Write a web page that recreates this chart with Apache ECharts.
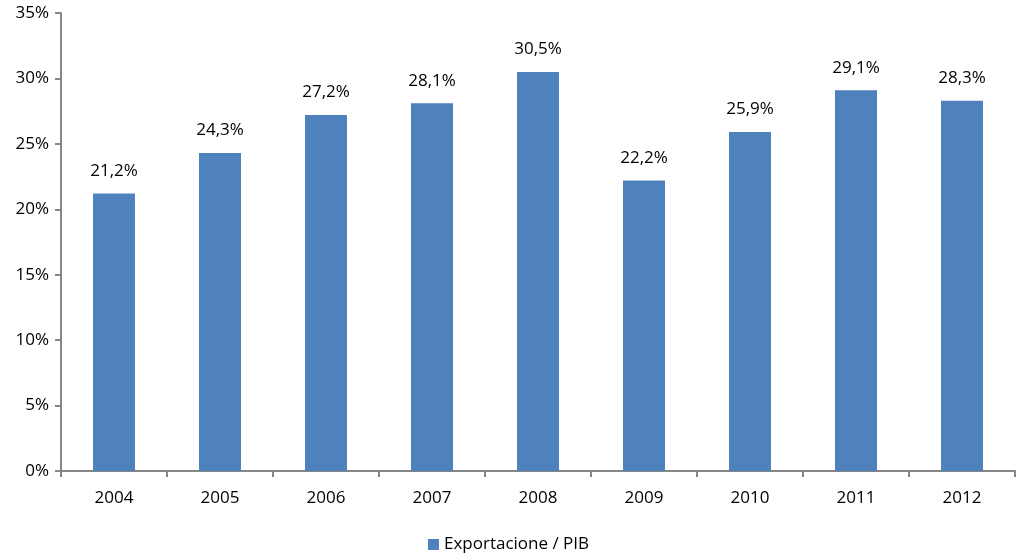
<!DOCTYPE html>
<html>
<head>
<meta charset="utf-8">
<script src="https://cdn.jsdelivr.net/npm/echarts@6/dist/echarts.min.js"></script>
<style>
  html, body { margin: 0; padding: 0; background: #fff; }
  #chart { width: 1017px; height: 560px; }
</style>
</head>
<body>
<div id="chart"></div>
<script>
var years = ['2004', '2005', '2006', '2007', '2008', '2009', '2010', '2011', '2012']
var exportShare = [21.2, 24.3, 27.2, 28.1, 30.5, 22.2, 25.9, 29.1, 28.3]
var seriesName = 'Exportacione / PIB'

var font = 'Open Sans'
var chart = echarts.init(document.getElementById('chart'))
var option = {
  animation: false,
  grid: { left: 61, right: 2, top: 13, bottom: 89 },
  legend: {
    top: 536,
    left: 'center',
    padding: 0,
    itemWidth: 11,
    itemHeight: 11,
    itemGap: 6,
    icon: 'rect',
    textStyle: { fontFamily: font, fontSize: 17, color: '#000' },
    data: [seriesName]
  },
  xAxis: {
    type: 'category',
    data: years,
    axisLine: { lineStyle: { color: '#868686', width: 2 } },
    axisTick: { show: true, length: 6, lineStyle: { color: '#868686', width: 2 } },
    axisLabel: { fontFamily: font, fontSize: 17, color: '#000', margin: 19 }
  },
  yAxis: {
    type: 'value',
    min: 0,
    max: 35,
    interval: 5,
    splitLine: { show: false },
    axisLine: { show: true, lineStyle: { color: '#868686', width: 2 } },
    axisTick: { show: true, length: 6, lineStyle: { color: '#868686', width: 2 } },
    axisLabel: { fontFamily: font, fontSize: 17, color: '#000', margin: 12, formatter: '{value}%' }
  },
  series: [{
    name: seriesName,
    type: 'bar',
    data: exportShare,
    barWidth: 42,
    itemStyle: { color: '#4F81BD' },
    label: {
      show: true,
      position: 'top',
      distance: 14,
      fontFamily: font,
      fontSize: 17,
      color: '#000',
      formatter: function(p) {
        return p.value.toFixed(1).replace('.', ',') + '%'
      }
    }
  }]
}
chart.setOption(option)
</script>
</body>
</html>
